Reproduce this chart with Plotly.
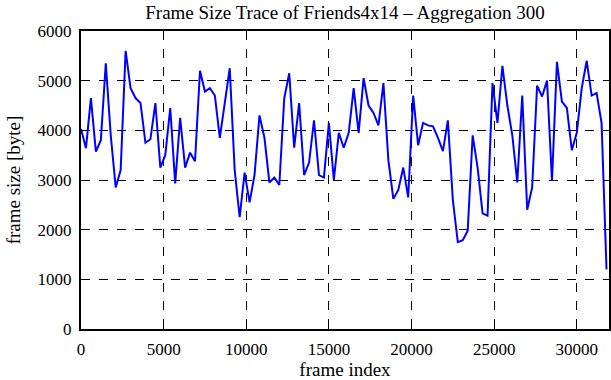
import plotly.graph_objects as go

step = 300
frame_size = [
    4026, 3640, 4650, 3570, 3800, 5350, 3900, 2850, 3200, 5600,
    4850, 4650, 4550, 3750, 3820, 4550, 3250, 3500, 4450, 2930,
    4250, 3250, 3550, 3380, 5200, 4780, 4850, 4700, 3850, 4600,
    5250, 3200, 2250, 3150, 2550, 3100, 4300, 3850, 2950, 3050,
    2900, 4650, 5150, 3650, 4550, 3100, 3350, 4200, 3100, 3050,
    4150, 3000, 3950, 3650, 3950, 4850, 3950, 5050, 4500, 4350,
    4100, 4950, 3400, 2620, 2800, 3250, 2650, 4700, 3700, 4150,
    4100, 4080, 3850, 3580, 4200, 2600, 1750, 1790, 1980, 3900,
    3250, 2330, 2280, 4950, 4150, 5300, 4500, 3900, 2950, 4700,
    2400, 2850, 4900, 4680, 5000, 2980, 5380, 4580, 4450, 3600,
    3950, 4850, 5400, 4700, 4750, 4150, 1200,
]
frame_index = [i * step for i in range(len(frame_size))]

x_ticks = [0, 5000, 10000, 15000, 20000, 25000, 30000]
x_tick_labels = ["0", "5000", "10000", "15000", "20000", "25000", "30000"]
y_ticks = [0, 1000, 2000, 3000, 4000, 5000, 6000]
y_tick_labels = ["0", "1000", "2000", "3000", "4000", "5000", "6000"]

font_family = "Liberation Serif"

fig = go.Figure()
fig.add_trace(go.Scatter(
    x=frame_index, y=frame_size, mode="lines",
    line=dict(color="#0000ff", width=2),
    showlegend=False,
))

axis_common = dict(
    showline=True, linecolor="black", linewidth=2, mirror="ticks",
    ticks="inside", ticklen=6, tickcolor="black", tickwidth=1,
    showgrid=True, gridcolor="black", gridwidth=1, griddash="dash",
    zeroline=False, automargin=False,
    tickfont=dict(family=font_family, size=17, color="black"),
)

fig.update_layout(
    width=611, height=380,
    margin=dict(l=81, r=2, t=31, b=51),
    paper_bgcolor="white", plot_bgcolor="white",
    title=dict(
        text="Frame Size Trace of Friends4x14 – Aggregation 300",
        x=(81 + 609) / 2 / 611, xanchor="center",
        y=1 - 12 / 380, yanchor="middle", yref="container",
        automargin=False,
        font=dict(family=font_family, size=19, color="black"),
    ),
    xaxis=dict(
        range=[0, 31950], tickvals=x_ticks, ticktext=x_tick_labels,
        ticklabelstandoff=4,
        title=dict(text="frame index", standoff=9,
                   font=dict(family=font_family, size=19, color="black")),
        **axis_common,
    ),
    yaxis=dict(
        range=[0, 6000], tickvals=y_ticks, ticktext=y_tick_labels,
        ticklabelstandoff=4,
        title=dict(text="frame size [byte]", standoff=12,
                   font=dict(family=font_family, size=19, color="black")),
        **axis_common,
    ),
)

fig.write_html(
    "out.html",
    config={"displayModeBar": False},
    post_script="document.body.style.margin='0';document.body.style.padding='0';",
)
